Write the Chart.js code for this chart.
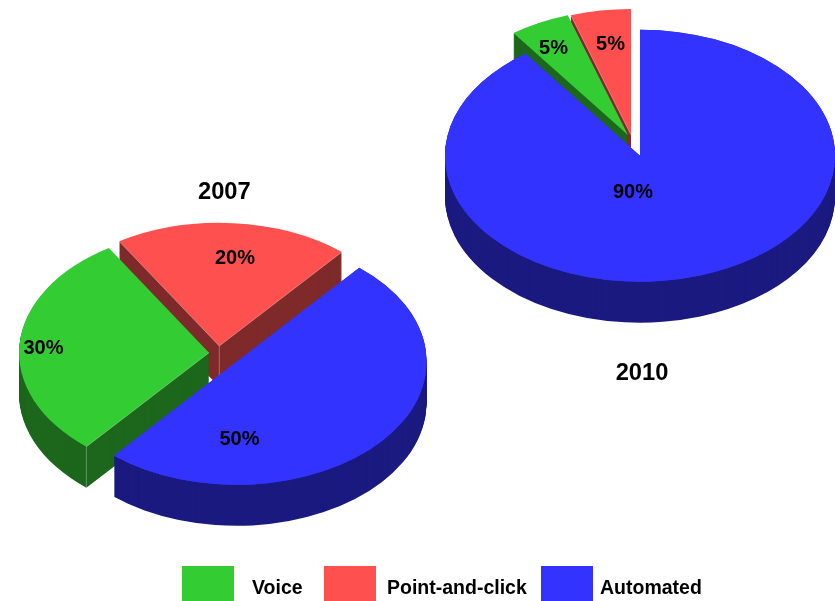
<!DOCTYPE html>
<html>
<head>
<meta charset="utf-8">
<style>
html,body{margin:0;padding:0;background:#fff;overflow:hidden}
#wrap{position:relative;width:835px;height:601px}
canvas{position:absolute;left:0;top:0}
</style>
<script src="https://cdn.jsdelivr.net/npm/chart.js@4/dist/chart.umd.min.js"></script>
</head>
<body>
<div id="wrap">
<canvas id="c2007" width="835" height="601"></canvas>
<canvas id="c2010" width="835" height="601"></canvas>
</div>
<script>
const categories = ['Voice', 'Point-and-click', 'Automated'];
const values2007 = [30, 20, 50];
const values2010 = [5, 5, 90];
const topColors = ['#33CC33', '#FF5050', '#3333FF'];
const wallColors = ['#1C671C', '#7F2A2A', '#1A1A80'];

const W = 835, H = 601;
const FONT = '"Liberation Sans", Arial, sans-serif';
const SEAM = 'rgba(255,255,255,0.45)';

const layout2007 = {
  title: '2007', titleAt: [224.3, 199], cx: 236.6, cy: 361.7, r: 190, squash: 0.648, depth: 41, rotation: 220.2,
  shift: [[-27.6, -9], [-17.3, -15.7], [0, 0]],
  labelAt: [[43.5, 354], [235, 264], [239.5, 445]],
  edges: [[0, 'start'], [1, 'start'], [1, 'end']],
  posts: [[0, 'start'], [1, 'apex']]
};
const layout2010 = {
  title: '2010', titleAt: [642, 380], cx: 640, cy: 155.7, r: 195, squash: 0.646, depth: 41, rotation: 324,
  shift: [[-12, -20.7], [-9, -20.7], [0, 0]],
  labelAt: [[553.5, 53.7], [610.5, 50.2], [633, 198]],
  edges: [[1, 'start']],
  posts: []
};
const legendBoxes = [[182, 566, 52, 35], [324, 566, 52, 35], [541, 566, 52, 35]];
const legendTextX = [252, 387, 600];
const legendBaseline = 594;

function tinted(el, colour) {
  const g = Object.create(el);
  const o = Object.create(el.options);
  Object.defineProperty(o, 'backgroundColor', { value: colour });
  g.options = o;
  return g;
}

const pie3d = {
  id: 'pie3d',
  beforeDatasetsDraw(chart, args, opts) {
    const L = opts.layout, ctx = chart.ctx;
    const arcs = chart.getDatasetMeta(0).data;
    const place = (i, down) => {
      ctx.translate(L.shift[i][0], L.shift[i][1] + down);
      ctx.translate(L.cx, L.cy);
      ctx.scale(1, L.squash);
      ctx.translate(-L.cx, -L.cy);
    };
    for (let d = L.depth; d > 0; d--) {
      arcs.forEach((el, i) => {
        ctx.save();
        place(i, d);
        tinted(el, wallColors[i]).draw(ctx);
        ctx.restore();
      });
    }
    arcs.forEach((el, i) => {
      ctx.save();
      place(i, 0);
      el.draw(ctx);
      ctx.restore();
    });
    // thin highlights where a cut face meets the top and at its visible corner
    const screen = (i, which) => {
      const el = arcs[i];
      const a = which === 'start' ? el.startAngle : el.endAngle;
      const rr = which === 'apex' ? 0 : el.outerRadius;
      const px = el.x + rr * Math.cos(a), py = el.y + rr * Math.sin(a);
      return [px + L.shift[i][0], L.cy + (py - L.cy) * L.squash + L.shift[i][1]];
    };
    ctx.save();
    ctx.strokeStyle = SEAM;
    ctx.lineWidth = 0.7;
    L.edges.forEach(([i, which]) => {
      const a = screen(i, 'apex'), b = screen(i, which);
      ctx.beginPath(); ctx.moveTo(a[0], a[1]); ctx.lineTo(b[0], b[1]); ctx.stroke();
    });
    L.posts.forEach(([i, which]) => {
      const p = screen(i, which);
      ctx.beginPath(); ctx.moveTo(p[0], p[1]); ctx.lineTo(p[0], p[1] + L.depth); ctx.stroke();
    });
    ctx.restore();
    // the front slice sits over any highlight that runs beneath it
    ctx.save();
    place(2, 0);
    arcs[2].draw(ctx);
    ctx.restore();
    return false;
  },
  afterDraw(chart, args, opts) {
    const L = opts.layout, ctx = chart.ctx;
    ctx.save();
    ctx.fillStyle = '#000';
    ctx.textBaseline = 'alphabetic';
    ctx.textAlign = 'center';
    ctx.font = 'bold 20px ' + FONT;
    chart.data.datasets[0].data.forEach((v, i) => {
      ctx.fillText(v + '%', L.labelAt[i][0], L.labelAt[i][1]);
    });
    ctx.font = 'bold 23.7px ' + FONT;
    ctx.fillText(L.title, L.titleAt[0], L.titleAt[1]);
    if (opts.legend) {
      categories.forEach((name, i) => {
        const b = legendBoxes[i];
        ctx.fillStyle = topColors[i];
        ctx.fillRect(b[0], b[1], b[2], b[3]);
        ctx.fillStyle = '#000';
        ctx.textAlign = 'left';
        ctx.font = 'bold 19.5px ' + FONT;
        ctx.fillText(name, legendTextX[i], legendBaseline);
      });
    }
    ctx.restore();
  }
};

function makePie(id, values, L, legend) {
  return new Chart(document.getElementById(id), {
    type: 'pie',
    data: { labels: categories, datasets: [{ data: values, backgroundColor: topColors, borderWidth: 0 }] },
    options: {
      responsive: false,
      animation: false,
      radius: L.r,
      rotation: L.rotation,
      events: [],
      layout: { padding: {
        left: Math.max(0, 2 * L.cx - W), right: Math.max(0, W - 2 * L.cx),
        top: Math.max(0, 2 * L.cy - H), bottom: Math.max(0, H - 2 * L.cy)
      } },
      plugins: { legend: { display: false }, tooltip: { enabled: false }, pie3d: { layout: L, legend } }
    },
    plugins: [pie3d]
  });
}
makePie('c2007', values2007, layout2007, true);
makePie('c2010', values2010, layout2010, false);
</script>
</body>
</html>
